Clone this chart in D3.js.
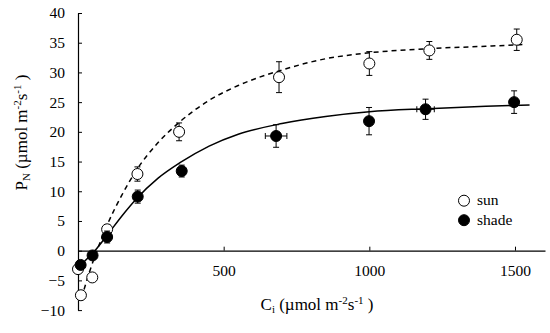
<!DOCTYPE html>
<html>
<head>
<meta charset="utf-8">
<script src="https://cdn.jsdelivr.net/npm/d3@7"></script>
<style>
  body { margin: 0; background: #fff; }
  #viz text, #viz tspan { font-family: 'Liberation Serif' !important; }
</style>
</head>
<body>
<div id="viz"></div>
<script>
// measured points (Ci, PN) with error bars
const sunCi = [0, 10, 49, 100, 204, 347, 690, 1000, 1206, 1506];
const sunPN = [-3.1, -7.5, -4.5, 3.6, 12.9, 20.0, 29.2, 31.5, 33.7, 35.5];
const sunErrY = [0.3, 0.4, 0.6, 0.8, 1.2, 1.5, 2.6, 2.0, 1.5, 1.8];
const sunErrX = [0, 0, 0, 0, 0, 0, 0, 0, 0, 0];

const shadeCi = [9, 50, 100, 205, 356, 680, 999, 1193, 1497];
const shadePN = [-2.4, -0.8, 2.3, 9.1, 13.4, 19.3, 21.8, 23.8, 25.0];
const shadeErrY = [0.3, 0.4, 1.0, 1.1, 1.0, 1.9, 2.3, 1.7, 1.9];
const shadeErrX = [0, 0, 0, 0, 0, 37, 0, 30, 0];

// fitted curves
const sunFitCi = [12, 40, 65, 100, 150, 200, 275, 350, 450, 550, 700, 850, 1000, 1200, 1400, 1535];
const sunFitPN = [-8, -3.5, 0, 4.3, 9.3, 13.5, 18.2, 21.7, 25.3, 27.8, 30.4, 32.3, 33.3, 34.0, 34.4, 34.7];
const shadeFitCi = [0, 58, 100, 150, 200, 275, 350, 450, 550, 700, 850, 1000, 1200, 1400, 1550];
const shadeFitPN = [-2.8, 0, 2.6, 5.8, 8.7, 12.2, 14.8, 17.6, 19.6, 21.4, 22.6, 23.4, 23.9, 24.3, 24.5];

const xTicks = [500, 1000, 1500];
const yTicks = [-10, -5, 0, 5, 10, 15, 20, 25, 30, 35, 40];

const width = 550, height = 333;

const x = d3.scaleLinear().domain([0, 1603]).range([78, 545]);
const y = d3.scaleLinear().domain([-10, 40]).range([310.1, 13]);

const svg = d3.select("#viz").append("svg")
  .attr("width", width)
  .attr("height", height)
  .attr("font-family", "Liberation Serif");

// y axis
const yAxis = svg.append("g")
  .attr("transform", `translate(${x(0)},0)`)
  .call(d3.axisLeft(y).tickValues(yTicks).tickSizeInner(-4).tickSizeOuter(0).tickPadding(13))
  .attr("font-family", "Liberation Serif")
  .attr("font-size", 15.5);
yAxis.select(".domain").attr("stroke", "#000").attr("stroke-width", 1.2);
yAxis.selectAll(".tick line").attr("stroke", "#000");

// x axis at PN = 0
const xAxis = svg.append("g")
  .attr("transform", `translate(0,${y(0)})`)
  .call(d3.axisBottom(x).tickValues(xTicks).tickFormat(d3.format("d"))
    .tickSizeInner(-4).tickSizeOuter(0).tickPadding(14))
  .attr("font-family", "Liberation Serif")
  .attr("font-size", 15.5);
xAxis.select(".domain").attr("stroke", "#000").attr("stroke-width", 1.2);
xAxis.selectAll(".tick line").attr("stroke", "#000");

// curves
const line = d3.line()
  .x(d => x(d[0]))
  .y(d => y(d[1]))
  .curve(d3.curveMonotoneX);

svg.append("path")
  .datum(sunFitCi.map((c, i) => [c, sunFitPN[i]]))
  .attr("d", line)
  .attr("fill", "none")
  .attr("stroke", "#000")
  .attr("stroke-width", 1.5)
  .attr("stroke-dasharray", "5,4");

svg.append("path")
  .datum(shadeFitCi.map((c, i) => [c, shadeFitPN[i]]))
  .attr("d", line)
  .attr("fill", "none")
  .attr("stroke", "#000")
  .attr("stroke-width", 1.5);

function drawSeries(ci, pn, ey, ex, fill) {
  const data = ci.map((c, i) => ({ c: c, p: pn[i], ey: ey[i], ex: ex[i] }));
  const g = svg.append("g");
  const cap = 3;
  data.forEach(d => {
    const cx = x(d.c), cy = y(d.p);
    const y1 = y(d.p + d.ey), y2 = y(d.p - d.ey);
    g.append("line").attr("x1", cx).attr("x2", cx).attr("y1", y1).attr("y2", y2)
      .attr("stroke", "#000").attr("stroke-width", 1);
    g.append("line").attr("x1", cx - cap).attr("x2", cx + cap).attr("y1", y1).attr("y2", y1)
      .attr("stroke", "#000").attr("stroke-width", 1);
    g.append("line").attr("x1", cx - cap).attr("x2", cx + cap).attr("y1", y2).attr("y2", y2)
      .attr("stroke", "#000").attr("stroke-width", 1);
    if (d.ex > 0) {
      const x1 = x(d.c - d.ex), x2 = x(d.c + d.ex);
      g.append("line").attr("x1", x1).attr("x2", x2).attr("y1", cy).attr("y2", cy)
        .attr("stroke", "#000").attr("stroke-width", 1);
      g.append("line").attr("x1", x1).attr("x2", x1).attr("y1", cy - cap).attr("y2", cy + cap)
        .attr("stroke", "#000").attr("stroke-width", 1);
      g.append("line").attr("x1", x2).attr("x2", x2).attr("y1", cy - cap).attr("y2", cy + cap)
        .attr("stroke", "#000").attr("stroke-width", 1);
    }
  });
  g.selectAll("circle")
    .data(data)
    .join("circle")
    .attr("cx", d => x(d.c))
    .attr("cy", d => y(d.p))
    .attr("r", 5.5)
    .attr("fill", fill)
    .attr("stroke", "#000")
    .attr("stroke-width", 1);
}

drawSeries(sunCi, sunPN, sunErrY, sunErrX, "#fff");
drawSeries(shadeCi, shadePN, shadeErrY, shadeErrX, "#000");

// legend
const legend = [["sun", "#fff"], ["shade", "#000"]];
legend.forEach((l, i) => {
  const ly = 200.7 + i * 19.5;
  svg.append("circle").attr("cx", 464).attr("cy", ly).attr("r", 5.5)
    .attr("fill", l[1]).attr("stroke", "#000").attr("stroke-width", 1);
  svg.append("text").attr("x", 477).attr("y", ly + 4.5)
    .attr("font-size", 15.5).text(l[0]);
});

// axis titles
const xt = svg.append("text")
  .attr("x", 317).attr("y", 310)
  .attr("text-anchor", "middle")
  .attr("font-size", 17);
xt.append("tspan").text("C");
xt.append("tspan").attr("font-size", 11).attr("dy", 3).text("i");
xt.append("tspan").attr("dy", -3).text(" (µmol m");
xt.append("tspan").attr("font-size", 11).attr("dy", -6).text("-2");
xt.append("tspan").attr("dy", 6).text("s");
xt.append("tspan").attr("font-size", 11).attr("dy", -6).text("-1");
xt.append("tspan").attr("dy", 6).text(" )");

const yt = svg.append("text")
  .attr("transform", "translate(27,132.5) rotate(-90)")
  .attr("text-anchor", "middle")
  .attr("font-size", 17);
yt.append("tspan").text("P");
yt.append("tspan").attr("font-size", 11).attr("dy", 3).text("N");
yt.append("tspan").attr("dy", -3).text(" (µmol m");
yt.append("tspan").attr("font-size", 11).attr("dy", -6).text("-2");
yt.append("tspan").attr("dy", 6).text("s");
yt.append("tspan").attr("font-size", 11).attr("dy", -6).text("-1");
yt.append("tspan").attr("dy", 6).text(" )");

svg.selectAll("text, tspan").attr("font-family", "Liberation Serif").attr("fill", "#000");
</script>
</body>
</html>
